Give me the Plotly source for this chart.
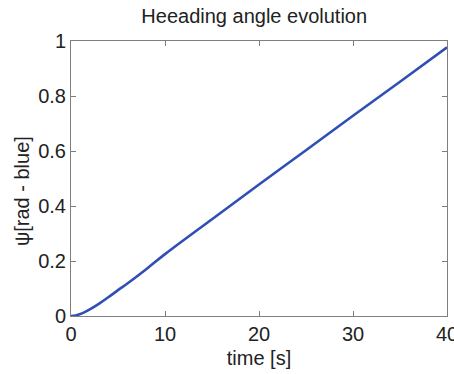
import plotly.graph_objects as go

time_s = [0, 0.5, 1, 1.5, 2, 3, 4, 5, 6, 8, 10, 15, 20, 25, 30, 35, 40]
psi_rad = [0, 0.002, 0.007, 0.015, 0.024, 0.045, 0.069, 0.094, 0.118, 0.170, 0.225, 0.352, 0.478, 0.603, 0.728, 0.852, 0.977]

x_ticks = [0, 10, 20, 30, 40]
y_ticks = [0, 0.2, 0.4, 0.6, 0.8, 1]
y_tick_labels = ["0", "0.2", "0.4", "0.6", "0.8", "1"]

font = "Liberation Sans, Arial, sans-serif"
axis_col = "#7f7f7f"
txt_col = "#222222"

fig = go.Figure()
fig.add_trace(go.Scatter(x=time_s, y=psi_rad, mode="lines",
                         line=dict(color="#2f4fb5", width=2.6, shape="spline"),
                         showlegend=False))

fig.update_layout(
    width=454, height=374,
    margin=dict(l=71, r=7, t=41, b=58),
    paper_bgcolor="white", plot_bgcolor="white",
    font=dict(family=font, size=20, color=txt_col),
    title=dict(text="Heeading angle evolution", x=0.56, xanchor="center",
               y=1 - 16 / 374, yanchor="middle", font=dict(size=20, color=txt_col)),
    annotations=[dict(text="ψ[rad - blue]", textangle=-90, xref="paper", yref="paper",
                      x=(22 - 71) / 376, y=(316 - 191) / 275, xanchor="center",
                      yanchor="middle", showarrow=False,
                      font=dict(size=20, color=txt_col, family=font))],
)
fig.update_xaxes(range=[0, 40], tickvals=x_ticks, ticks="inside", ticklen=5,
                 tickcolor=axis_col, showline=True, linecolor=axis_col, linewidth=1,
                 mirror="ticks", showgrid=False, zeroline=False,
                 ticklabeloverflow="allow", automargin=False,
                 title=dict(text="time [s]", standoff=6, font=dict(size=20, color=txt_col)),
                 tickfont=dict(size=20))
fig.update_yaxes(range=[0, 1], tickvals=y_ticks, ticktext=y_tick_labels,
                 ticks="inside", ticklen=5, automargin=False,
                 tickcolor=axis_col, showline=True, linecolor=axis_col, linewidth=1,
                 mirror="ticks", showgrid=False, zeroline=False,
                 tickfont=dict(size=20))

fig.write_html("out.html")
